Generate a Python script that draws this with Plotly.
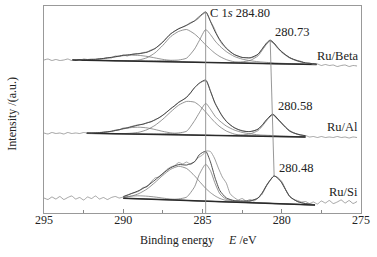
import numpy as np
import plotly.graph_objects as go

# ---------------- data ----------------
# raw spectra, 0.25 eV steps starting at 295 eV going down
RAW_START = 295.0
RAW_STEP = 0.25

beta_raw = [
    153, 154, 152.5, 153.5, 152.5, 153, 154, 152.5,
    153.5, 152.5, 154, 153.5, 154, 153.5, 154.5, 154.5,
    155.5, 155, 157, 156.5, 158, 157, 158.5, 159.5,
    159.5, 160.5, 161, 163, 164.5, 167.5, 171, 175.5,
    179, 182, 184.5, 186, 188, 190.5, 192, 194.5,
    198.5, 200.5, 192, 184.5, 175, 168.5, 164.5, 161,
    158.5, 157, 155.5, 155.5, 155, 156, 158.5, 163.5,
    169, 172.5, 170, 165, 161.5, 158, 155.5, 153.5,
    152.5, 151.5, 149.5, 150, 148.5, 149, 147.5, 148.5,
    147.5, 148, 146.5, 147.5, 148, 146.5, 147.5, 147,
]
al_raw = [
    80, 79, 80.5, 79.5, 80, 79, 80.5, 79.5,
    80, 79.5, 80.5, 80, 80, 80.5, 80.5, 81,
    81.5, 81.5, 83, 83, 85, 84.5, 86.5, 87.5,
    88.5, 88.5, 90.5, 91, 93.5, 95, 98, 101,
    104.5, 107, 111, 113, 116, 120, 125.5, 129,
    131.5, 132, 122.5, 111, 104, 96.5, 92, 88,
    85.5, 83.5, 82.5, 81.5, 81.5, 82, 84, 87.5,
    92.5, 96.5, 98.5, 94, 90, 85.5, 82.5, 80,
    79, 77.5, 77.5, 76, 76.5, 75.5, 76.5, 75.5,
    76, 75.5, 76.5, 75.5, 76, 75, 76, 75.5,
]
si_raw = [
    15, 13.5, 16, 14, 16.5, 13.5, 15.5, 17,
    14, 15.5, 13, 16, 14.5, 17, 14, 15.5,
    13.5, 15.5, 16.5, 15, 16, 17.5, 19.5, 20.5,
    22, 25.5, 26, 31, 35, 36, 39, 43.5,
    46, 47.5, 50.5, 49, 51, 48.5, 51.5, 55.5,
    58, 62, 61.5, 55, 45, 36, 30, 19,
    15.5, 13, 14.5, 12, 13.5, 12, 15, 18.5,
    26, 32, 37, 35.5, 31.5, 23.5, 16.5, 13.5,
    12.5, 11, 11.5, 9.5, 11, 9, 12, 10,
    12.5, 9.5, 11, 13, 10, 12.5, 9.5, 11.5,
]

# ---- Ru/Beta fit ----
beta_E = [293.2, 292.5, 292, 291.5, 291, 290.5, 290, 289.5, 289, 288.5, 288, 287.5,
          287, 286.5, 286, 285.5, 285.2, 284.8, 284.5, 284.2, 283.9, 283.5, 283, 282.5,
          282, 281.5, 281.2, 280.95, 280.73, 280.5, 280.25, 280, 279.5, 279, 278.5, 277.8]
beta_base = [153.0, 148.5]
beta_base_E = [293.2, 277.8]
beta_env = [153.1, 153.2, 153.5, 154.1, 155.1, 156.3, 157.7, 158.5, 159.3, 160.8, 164.4, 171.0,
            179.3, 184.2, 187.7, 192.2, 196.5, 201.1, 191.6, 181.2, 173.1, 164.9, 158.5, 155.6,
            155.2, 158.8, 164.9, 170.1, 172.9, 170.1, 165.4, 161.2, 155.4, 152.2, 150.2, 148.9]
beta_broad = [153.0, 152.8, 152.7, 152.5, 152.4, 152.2, 152.2, 152.3, 153.1, 155.3, 160.1, 167.7,
              176.5, 181.6, 183.5, 179.0, 174.7, 168.1, 163.6, 159.6, 156.4, 153.4, 151.2, 150.3,
              149.8, 149.6, 149.5, 149.4, 149.4, 149.3, 149.2, 149.1, 149.0, 148.9, 148.7, 148.5]
beta_sharp = [153.0, 152.9, 152.8, 152.7, 152.6, 152.4, 152.4, 152.2, 152.2, 152.1, 152.2, 152.3,
              152.7, 153.0, 154.9, 164.0, 172.5, 183.5, 178.5, 171.9, 166.8, 161.4, 156.6, 153.9,
              152.3, 151.3, 150.9, 150.6, 150.4, 150.1, 149.9, 149.7, 149.4, 149.2, 148.9, 148.6]
beta_hump = [153.1, 153.1, 153.4, 153.9, 154.9, 156.1, 157.3, 157.8, 157.6, 156.6, 155.1, 153.6,
             152.5, 151.6, 151.1, 150.8, 150.7, 150.5, 150.5, 150.4, 150.3, 150.2, 150.0, 149.9,
             149.7, 149.6, 149.5, 149.4, 149.4, 149.3, 149.2, 149.1, 149.0, 148.9, 148.7, 148.5]
beta_ru = [153.0, 152.8, 152.7, 152.5, 152.4, 152.2, 152.1, 151.9, 151.8, 151.6, 151.5, 151.3,
           151.2, 151.0, 150.9, 150.8, 150.7, 150.5, 150.5, 150.5, 150.5, 150.5, 150.7, 151.2,
           152.5, 157.1, 163.5, 168.9, 171.9, 169.3, 164.7, 160.6, 155.0, 151.9, 150.0, 148.8]

# ---- Ru/Al fit ----
al_E = [292.3, 292, 291.5, 291, 290.5, 290, 289.5, 289, 288.5, 288, 287.5, 287, 286.5,
        286, 285.5, 285.2, 284.8, 284.5, 284.2, 283.9, 283.5, 283, 282.5, 282, 281.5,
        281.2, 280.9, 280.58, 280.3, 280, 279.5, 279, 278.5]
al_base = [79.7, 76.0]
al_base_E = [292.3, 278.5]
al_env = [79.9, 79.9, 80.3, 81.1, 82.5, 84.4, 86.2, 88.0, 90.0, 93.0, 97.8, 104.3, 110.6,
          115.7, 125.3, 129.9, 133.0, 121.7, 109.6, 100.6, 91.6, 85.3, 82.1, 81.4, 83.8,
          88.6, 94.4, 98.9, 95.0, 89.8, 82.1, 78.8, 77.3]
al_broad = [79.7, 79.6, 79.5, 79.4, 79.3, 79.4, 79.8, 80.8, 83.3, 87.6, 93.8, 101.2, 107.9,
            111.6, 110.8, 107.5, 101.0, 95.5, 90.4, 86.2, 82.0, 79.0, 77.6, 77.1, 76.8,
            76.7, 76.7, 76.6, 76.5, 76.4, 76.3, 76.2, 76.0]
al_sharp = [79.8, 79.7, 79.6, 79.5, 79.4, 79.3, 79.2, 79.1, 79.0, 79.1, 79.2, 79.6, 80.1,
            81.8, 92.3, 100.2, 109.7, 103.8, 96.7, 91.9, 87.0, 83.0, 80.6, 79.2, 78.2,
            77.9, 77.7, 77.5, 77.2, 77.0, 76.7, 76.4, 76.2]
al_hump = [79.9, 79.9, 80.3, 81.1, 82.4, 84.1, 85.4, 85.8, 85.1, 83.5, 81.6, 80.1, 79.0,
           78.3, 78.0, 77.8, 77.7, 77.6, 77.5, 77.5, 77.4, 77.2, 77.1, 77.0, 76.8,
           76.7, 76.7, 76.6, 76.5, 76.4, 76.3, 76.2, 76.0]
al_ru = [79.7, 79.6, 79.5, 79.4, 79.2, 79.1, 79.0, 78.8, 78.7, 78.6, 78.4, 78.3, 78.2,
         78.0, 77.9, 77.8, 77.7, 77.6, 77.5, 77.5, 77.5, 77.7, 78.1, 79.1, 82.4,
         87.4, 93.4, 98.0, 94.3, 89.2, 81.7, 78.6, 77.1]

# ---- Ru/Si fit ----
si_E = [290, 289.5, 289, 288.5, 288, 287.5, 287, 286.5, 286, 285.5, 285.2, 284.8, 284.5,
        284.2, 283.9, 283.5, 283, 282.5, 282, 281.5, 281.2, 280.9, 280.48, 280.2, 280,
        279.5, 279, 278.5, 277.9]
si_base = [14.7, 8.0]
si_base_E = [290, 277.9]
si_env = [16.5, 19.3, 22.5, 26.9, 32.9, 39.6, 45.3, 48.4, 48.0, 51.2, 58.3, 61.7, 51.1,
          34.8, 22.3, 15.1, 12.4, 12.1, 12.2, 15.0, 21.0, 29.2, 37.1, 34.1, 30.2,
          16.6, 11.4, 9.4, 8.3]
si_broad = [15.7, 16.8, 19.5, 24.0, 30.5, 37.7, 43.8, 46.7, 44.5, 37.2, 31.7, 24.7, 20.4,
            17.0, 14.5, 12.5, 11.2, 10.7, 10.3, 10.0, 9.8, 9.7, 9.4, 9.3, 9.2,
            8.9, 8.6, 8.3, 8.0]
si_sharp = [14.7, 14.4, 14.2, 13.9, 13.6, 13.6, 13.6, 14.1, 15.9, 26.2, 38.6, 48.8, 42.4,
            29.3, 19.1, 13.7, 12.0, 11.4, 10.8, 10.3, 10.0, 9.9, 9.5, 9.3, 9.2,
            8.9, 8.6, 8.3, 8.0]
si_hump = [15.5, 16.9, 17.2, 16.8, 16.0, 14.9, 13.9, 13.2, 12.6, 12.2, 12.0, 11.8, 11.7,
           11.5, 11.3, 11.1, 10.8, 10.6, 10.3, 10.0, 9.8, 9.7, 9.4, 9.3, 9.2,
           8.9, 8.6, 8.3, 8.0]
si_ru = [14.7, 14.4, 14.2, 13.9, 13.6, 13.3, 13.0, 12.8, 12.5, 12.2, 12.0, 11.8, 11.7,
         11.5, 11.3, 11.1, 10.8, 11.2, 11.7, 14.7, 20.8, 29.0, 37.0, 34.1, 30.2,
         16.6, 11.4, 9.4, 8.3]

# reference positions
c1s_ref = 284.80
ru_peak_E = [280.73, 280.58, 280.48]
ru_peak_labels = ["280.73", "280.58", "280.48"]
sample_names = ["Ru/Beta", "Ru/Al", "Ru/Si"]

# ---------------- figure ----------------
fig = go.Figure()

COMP = "#7a7a7a"
ENV = "#3c3c3c"
RAW = "#8a8a8a"
BASE = "#2a2a2a"

spectra = [
    (beta_raw, beta_E, beta_env, [beta_broad, beta_sharp, beta_hump, beta_ru], beta_base_E, beta_base),
    (al_raw, al_E, al_env, [al_broad, al_sharp, al_hump, al_ru], al_base_E, al_base),
    (si_raw, si_E, si_env, [si_broad, si_sharp, si_hump, si_ru], si_base_E, si_base),
]

ru_peak_I = []
for raw, E, env, comps, bE, bI in spectra:
    raw_E = RAW_START - RAW_STEP * np.arange(len(raw))
    for comp in comps:
        fig.add_trace(go.Scatter(x=E, y=comp, mode="lines", line=dict(color=COMP, width=0.8, shape="spline", smoothing=0.6)))
    fig.add_trace(go.Scatter(x=bE, y=bI, mode="lines", line=dict(color=BASE, width=1.4)))
    fig.add_trace(go.Scatter(x=raw_E, y=raw, mode="lines", line=dict(color=RAW, width=0.8, shape="spline", smoothing=0.5)))
    fig.add_trace(go.Scatter(x=E, y=env, mode="lines", line=dict(color=ENV, width=0.9, shape="spline", smoothing=0.6)))
    ru_peak_I.append(max(v for e, v in zip(E, env) if 280.2 <= e <= 281.0))

# C 1s reference line
c1s_top = max(beta_env)
fig.add_trace(go.Scatter(x=[c1s_ref, c1s_ref], y=[0, c1s_top], mode="lines", line=dict(color="#8c8c8c", width=0.9)))
# Ru 3d shift line
fig.add_trace(go.Scatter(x=[ru_peak_E[0], ru_peak_E[-1]], y=[ru_peak_I[0], ru_peak_I[-1]], mode="lines",
                         line=dict(color="#8c8c8c", width=0.9)))

ann = []
ann.append(dict(x=c1s_ref, y=c1s_top, xref="x", yref="y", text="C 1<i>s</i> 284.80", showarrow=False,
                xanchor="left", yanchor="middle", xshift=2, yshift=-1, font=dict(size=12.5)))
for e, i, lab in zip(ru_peak_E, ru_peak_I, ru_peak_labels):
    ann.append(dict(x=e, y=i, xref="x", yref="y", text=lab, showarrow=False,
                    xanchor="left", yanchor="bottom", xshift=3, yshift=-1, font=dict(size=12.5)))
for (raw, *_), name in zip(spectra, sample_names):
    lvl = float(np.mean(raw[-8:]))
    ann.append(dict(x=1, y=lvl, xref="paper", yref="y", text=name, showarrow=False,
                    xanchor="right", yanchor="middle", xshift=-1, yshift=10, font=dict(size=12.5)))
ann.append(dict(x=0.486, y=0, xref="paper", yref="paper", text="Binding energy&nbsp;&nbsp;&nbsp;&nbsp;&nbsp;<i>E</i> /eV",
                showarrow=False, xanchor="center", yanchor="middle", yshift=-27, font=dict(size=12)))
ann.append(dict(x=0, y=0.48, xref="paper", yref="paper", text="Intensity /(a.u.)", textangle=-90,
                showarrow=False, xanchor="center", yanchor="middle", xshift=-32, font=dict(size=12)))

fig.update_layout(
    width=377, height=257,
    margin=dict(l=44, r=16, t=6, b=44),
    plot_bgcolor="white", paper_bgcolor="white",
    font=dict(family="Liberation Serif", size=12, color="#222"),
    showlegend=False,
    hovermode=False,
    annotations=ann,
)
fig.update_xaxes(range=[295, 275], tick0=275, dtick=5, ticks="inside", ticklen=4, tickcolor="#888",
                 showline=True, linecolor="#999", linewidth=1, mirror=True, showgrid=False, zeroline=False,
                 minor=dict(ticks="inside", ticklen=3, dtick=2.5, tickcolor="#888", showgrid=False),
                 tickfont=dict(size=12), ticklabelstandoff=-4, ticklabeloverflow="allow")
fig.update_yaxes(range=[0, 207], showticklabels=False, ticks="", showline=True, linecolor="#999",
                 linewidth=1, mirror=True, showgrid=False, zeroline=False)

fig.write_html("out.html", config={"displayModeBar": False, "staticPlot": True},
               post_script="document.body.style.margin='0px';document.body.style.overflow='hidden';")
